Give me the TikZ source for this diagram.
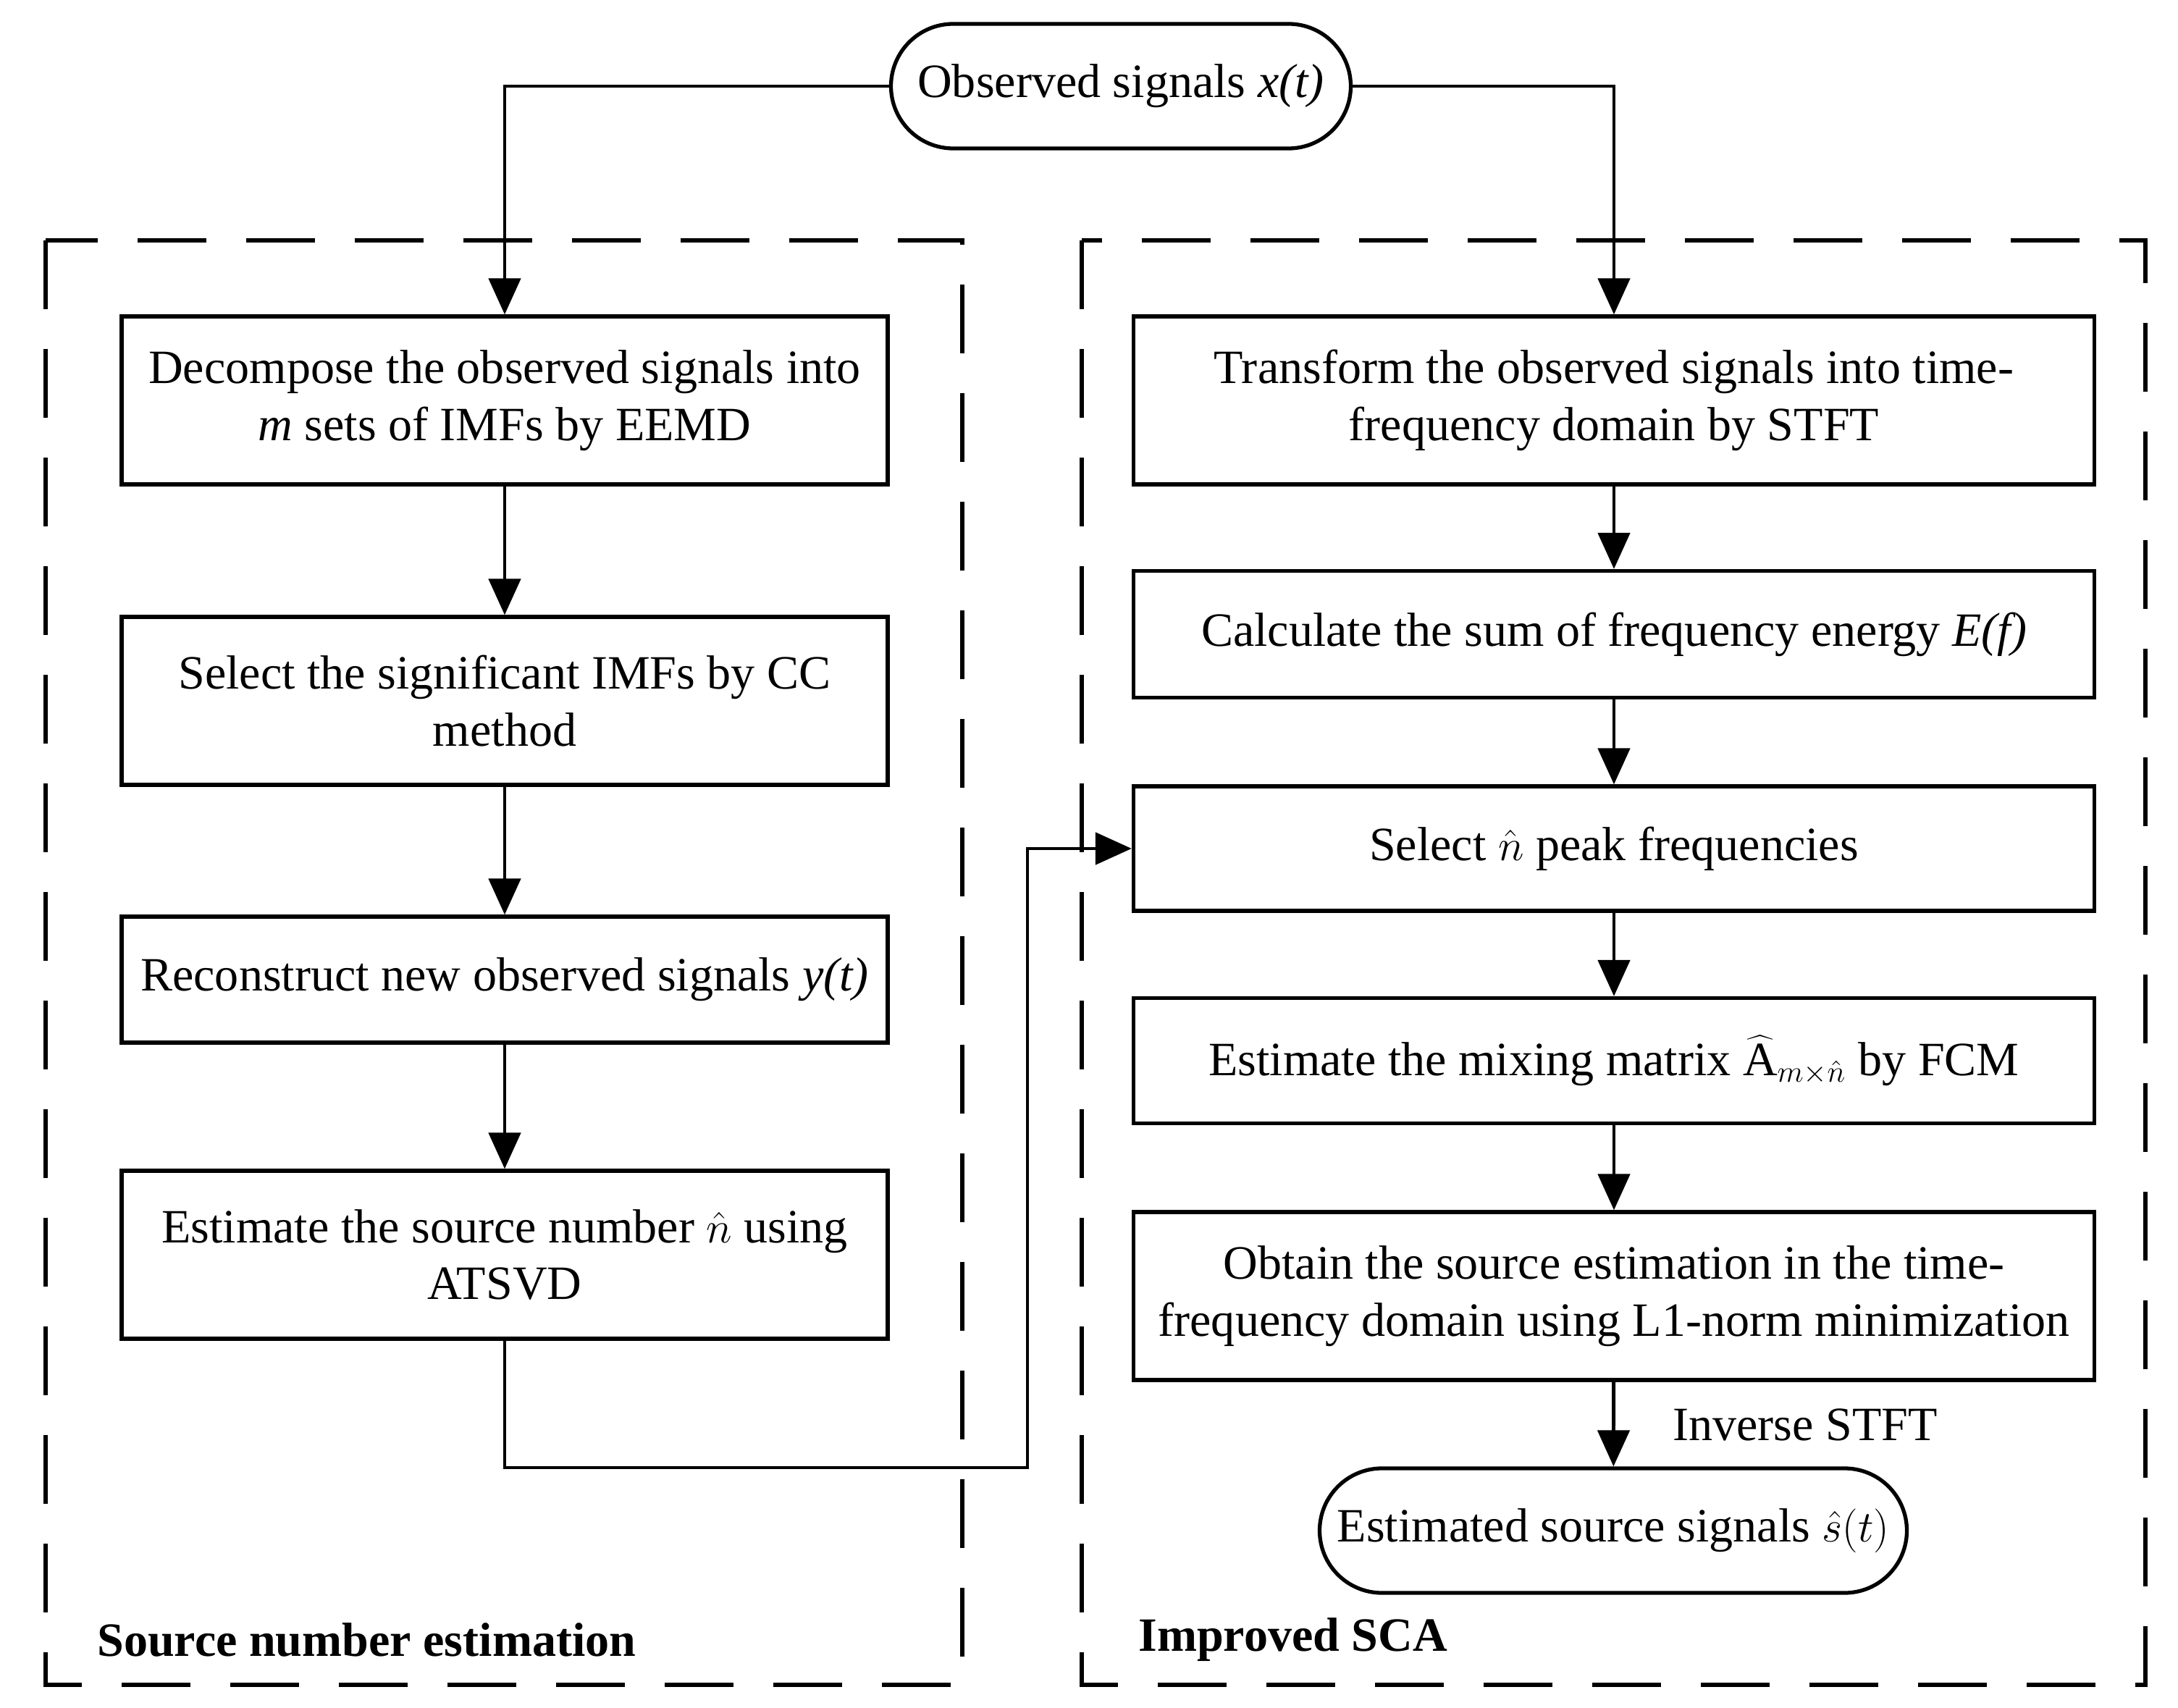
\documentclass[tikz,border=0pt]{standalone}
\usepackage{fontspec}
\setmainfont{Liberation Serif}
\usetikzlibrary{shapes.misc,arrows.meta}
\begin{document}
\begin{tikzpicture}[
  font=\fontsize{18.8}{22.4}\selectfont,
  box/.style={draw, line width=1.5pt, minimum width=10.58cm, minimum height=2.32cm, align=center, inner sep=0pt},
  rbox/.style={box, minimum width=13.27cm},
  term/.style={draw, line width=1.5pt, rounded rectangle, minimum height=1.72cm, inner sep=0pt, align=center},
  group/.style={draw, line width=1.5pt, dash pattern=on 0.95cm off 0.55cm},
  conn/.style={line width=1.4pt},
  arr/.style={conn, -{Triangle[length=0.5cm, width=0.44cm]}},
  lbl/.style={font=\fontsize{18.8}{22.4}\selectfont\bfseries, anchor=west}
]
\useasboundingbox (0,0) rectangle (30.08,-23.59);

% group frames
\draw[group] (0.63,-3.32) rectangle (13.29,-23.27);
\draw[group] (14.94,-3.32) rectangle (29.63,-23.27);

% top terminal
\node[term, minimum width=6.35cm] (top) at (15.48,-1.19) {Observed signals \textit{x(t)}};

% left column
\node[box] (b1) at (6.97,-5.53) {Decompose the observed signals into\\\textit{m} sets of IMFs by EEMD};
\node[box] (b2) at (6.97,-9.68) {Select the significant IMFs by CC\\method};
\node[box, minimum height=1.74cm] (b3) at (6.97,-13.53) {Reconstruct new observed signals \textit{y(t)}};
\node[box] (b4) at (6.97,-17.33) {Estimate the source number $\hat{n}$ using\\ATSVD};

% right column
\node[rbox] (r1) at (22.29,-5.53) {Transform the observed signals into time-\\frequency domain by STFT};
\node[rbox, minimum height=1.75cm] (r2) at (22.29,-8.76) {Calculate the sum of frequency energy \textit{E(f)}};
\node[rbox, minimum height=1.72cm] (r3) at (22.29,-11.72) {Select $\hat{n}$ peak frequencies};
\node[rbox, minimum height=1.73cm] (r4) at (22.29,-14.65) {Estimate the mixing matrix $\widehat{\mathrm{A}}_{m\times\hat{n}}$ by FCM};
\node[rbox] (r5) at (22.29,-17.90) {Obtain the source estimation in the time-\\frequency domain using L1-norm minimization};
\node[term, minimum width=8.11cm] (out) at (22.28,-21.14) {Estimated source signals $\hat{s}(t)$};

% labels
\node[anchor=west] (inv) at (22.98,-19.68) {Inverse STFT};
\node[lbl] (g1) at (1.22,-22.65) {Source number estimation};
\node[lbl] (g2) at (15.60,-22.65) {Improved SCA};

% connectors
\draw[arr] (top.west) -| (b1.north);
\draw[arr] (top.east) -| (r1.north);
\draw[arr] (b1) -- (b2);
\draw[arr] (b2) -- (b3);
\draw[arr] (b3) -- (b4);
\coordinate (k1) at (6.97,-20.27);
\coordinate (k2) at (14.19,-20.27);
\draw[arr] (b4.south) -- (k1) -- (k2) |- (r3.west);
\draw[arr] (r1) -- (r2);
\draw[arr] (r2) -- (r3);
\draw[arr] (r3) -- (r4);
\draw[arr] (r4) -- (r5);
\draw[arr] (r5) -- (out);
\end{tikzpicture}
\end{document}
